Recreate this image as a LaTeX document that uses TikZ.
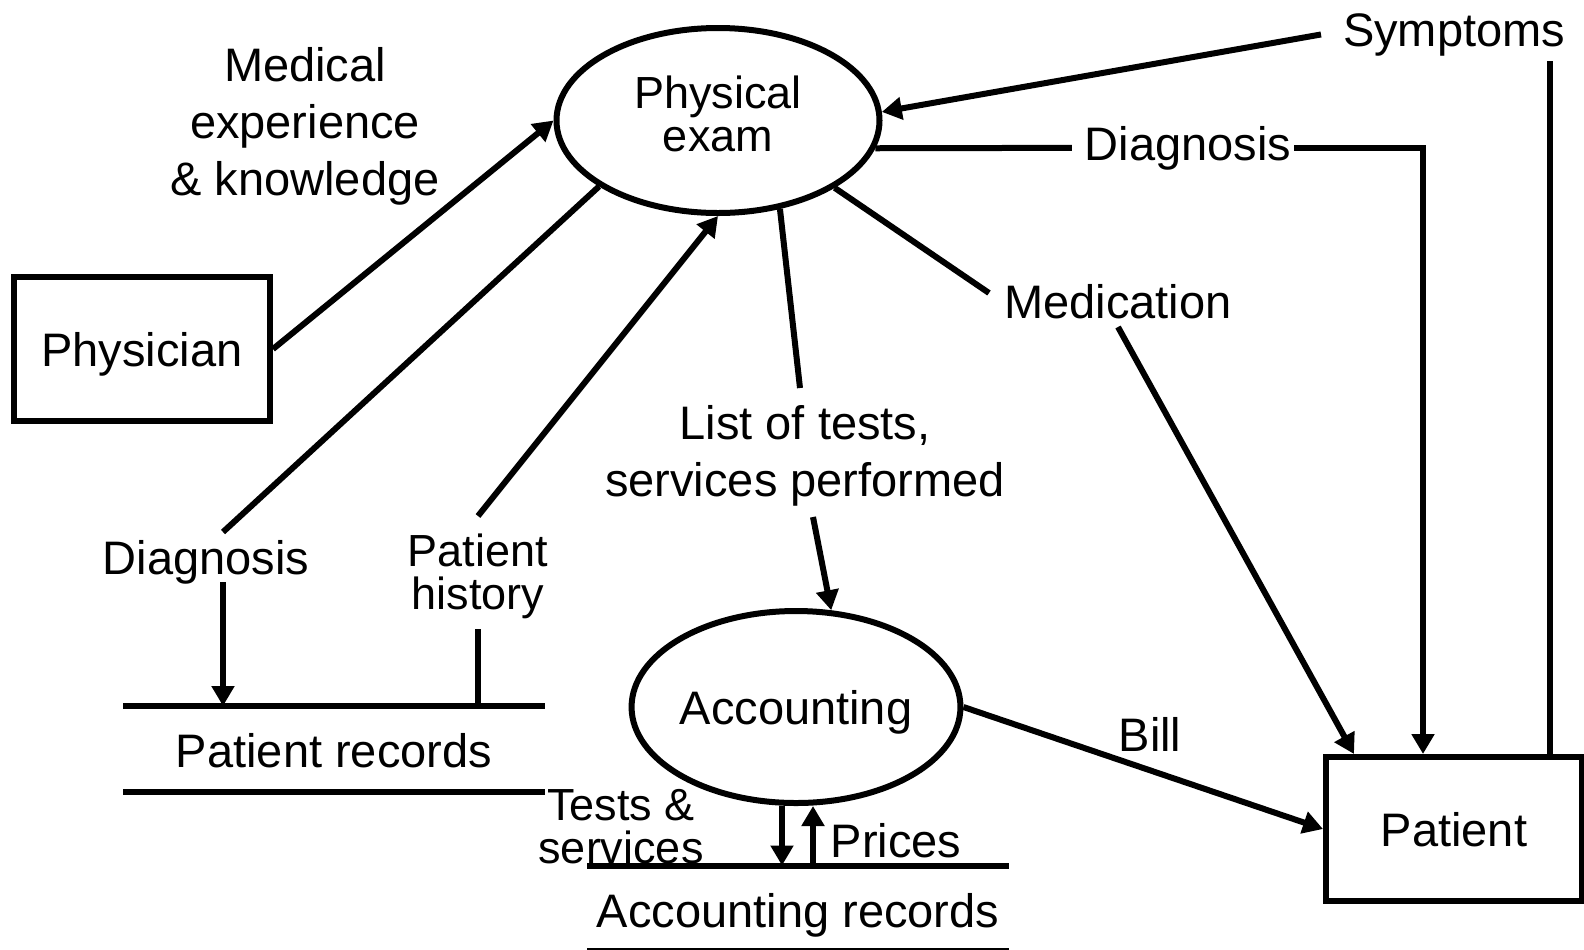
\documentclass[tikz,border=0pt]{standalone}
\usepackage{fontspec}
\setmainfont{Liberation Sans}
\usetikzlibrary{shapes.geometric,arrows.meta}
\newcommand{\lblfont}{\fontsize{23.5}{28.5}\selectfont}
\newcommand{\smlfont}{\fontsize{22.5}{21.5}\selectfont}

\begin{document}
\begin{tikzpicture}[x=0.5pt, y=-0.5pt, line width=3pt, >={Triangle[length=10pt,width=11pt]},
    proc/.style={ellipse, draw, inner sep=0pt, align=center},
    ent/.style={rectangle, draw, minimum width=128pt, minimum height=72pt, text depth=0pt, font=\lblfont},
    lbl/.style={inner sep=0pt, align=center, font=\lblfont},
    slbl/.style={inner sep=0pt, align=center, font=\smlfont},
    store/.style={inner sep=0pt, minimum width=208pt, font=\lblfont}]
\useasboundingbox (0,0) rectangle (1584,949);

\node[ent] (phys) at (142,349) {Physician};
\node[ent] (patient) at (1454,829) {Patient};
\node[proc, minimum width=161.5pt, minimum height=92.5pt, text depth=7pt, font=\smlfont] (exam) at (718,120.5) {Physical\\exam};
\node[proc, minimum width=161pt, minimum height=96pt, text depth=0pt, font=\lblfont] (acct) at (796,707) {Accounting};
\node[store, minimum height=40pt, text height=18pt, text depth=0pt] (prec) at (334,749) {Patient records};
\node[store, minimum height=39.5pt, text height=19pt, text depth=0pt] (arec) at (798,908) {Accounting records};

\node[lbl, anchor=north] (medk) at (305,44) {Medical\\experience\\\& knowledge};
\node[lbl, anchor=base] (dgL) at (206,574) {Diagnosis};
\node[slbl, anchor=north] (hist) at (478,531) {Patient\\history};
\node[lbl, anchor=north] (lst) at (805,402) {List of tests,\\services performed};
\node[lbl, anchor=base] (sym) at (1454,46) {Symptoms};
\node[lbl, anchor=base] (dgR) at (1188,160) {Diagnosis};
\node[lbl, anchor=base] (med) at (1118,318) {Medication};
\node[lbl, anchor=base] (bill) at (1150,751) {Bill};
\node[slbl, anchor=north] (tst) at (621,786) {Tests \&\\services};
\node[lbl, anchor=base] (pri) at (896,857) {Prices};

\coordinate (dgLin) at (223,532);
\coordinate (dgLout) at (223,582);
\coordinate (histin) at (478,629);
\coordinate (histout) at (478,516);
\coordinate (lstin) at (800,388);
\coordinate (lstout) at (813,517);
\coordinate (medin) at (989,293);
\coordinate (medout) at (1118,327);
\coordinate (symv) at (1550,61);

\draw (prec.north west) -- (prec.north east);
\draw (prec.south west) -- (prec.south east);
\draw (arec.north west) -- (arec.north east);
\draw (arec.south west) -- (arec.south east);

\draw[->] (phys.east) -- (exam.west);
\draw (exam.209) -- (dgLin);
\draw[->] (dgLout) -- (dgLout |- prec.north);
\draw (histin |- prec.north) -- (histin);
\draw[->] (histout) -- (exam.south);
\draw (exam.-55) -- (lstin);
\draw[->] (lstout) -- (acct.70);
\draw[->] ([xshift=-9.5pt]sym.west) -- (exam.3);
\draw (symv |- patient.north) -- (symv);
\draw (exam.-10) -- ([xshift=-5pt]dgR.west);
\draw[->] (dgR.east) -| ([xshift=-15.5pt]patient.north);
\draw (exam.-30) -- (medin);
\draw[->] (medout) -- ([xshift=15.5pt]patient.north west);
\draw[->] (acct.east) -- (patient.west);
\draw[->] ([xshift=-7pt]acct.south) -- ([xshift=-8pt]arec.north);
\draw[->] ([xshift=7.5pt]arec.north) -- ([xshift=8.5pt]acct.south);
\end{tikzpicture}
\end{document}
